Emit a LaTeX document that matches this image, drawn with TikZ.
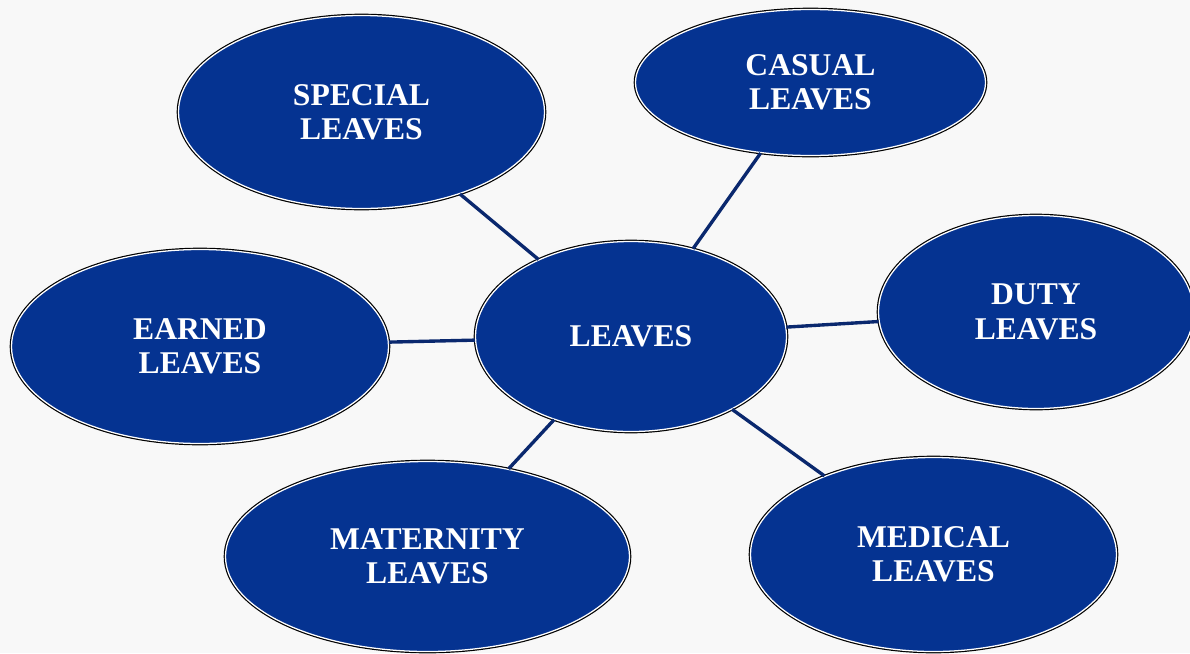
\documentclass[tikz,border=0pt]{standalone}
\usepackage{fontspec}
\setmainfont{Liberation Serif}
\usetikzlibrary{shapes.geometric}
\definecolor{bubbleblue}{RGB}{5,51,145}
\definecolor{linkblue}{RGB}{10,40,110}
\definecolor{paper}{RGB}{248,248,248}
\tikzset{
  bubble/.style={ellipse,fill=bubbleblue,draw=white,line width=0.9pt,
    preaction={draw=black,line width=2.6pt},inner sep=0pt,align=center,
    text=white,font=\bfseries\fontsize{22.5}{24.5}\selectfont},
  link/.style={draw=linkblue,line width=2.4pt}
}
\begin{document}
\begin{tikzpicture}[x=0.025cm,y=-0.025cm]
    \fill[paper] (0,0) rectangle (1190,653);
    \useasboundingbox (0,0) rectangle (1190,653);
    \foreach \pos/\name/\rw/\rh/\txt in
{{(631,336.5)/leaves/311/190/{LEAVES}},{(361.5,112)/special/366/193/{SPECIAL\\LEAVES}},
{(810.5,82.5)/casual/350/146/{CASUAL\\LEAVES}},{(1036,312)/duty/315/193/{DUTY\\LEAVES}},
{(200,346.5)/earned/377/194/{EARNED\\LEAVES}},{(427.5,556.5)/maternity/404/190/{MATERNITY\\LEAVES}},
{(933.5,554.5)/medical/366/194/{MEDICAL\\LEAVES}}}
      \node[bubble,minimum width=\rw*0.025cm,minimum height=\rh*0.025cm] (\name) at \pos {\txt};
    \foreach \tgt in {special,casual,duty,earned,maternity,medical}
      \draw[link] (leaves) -- (\tgt);
  \end{tikzpicture}
\end{document}
